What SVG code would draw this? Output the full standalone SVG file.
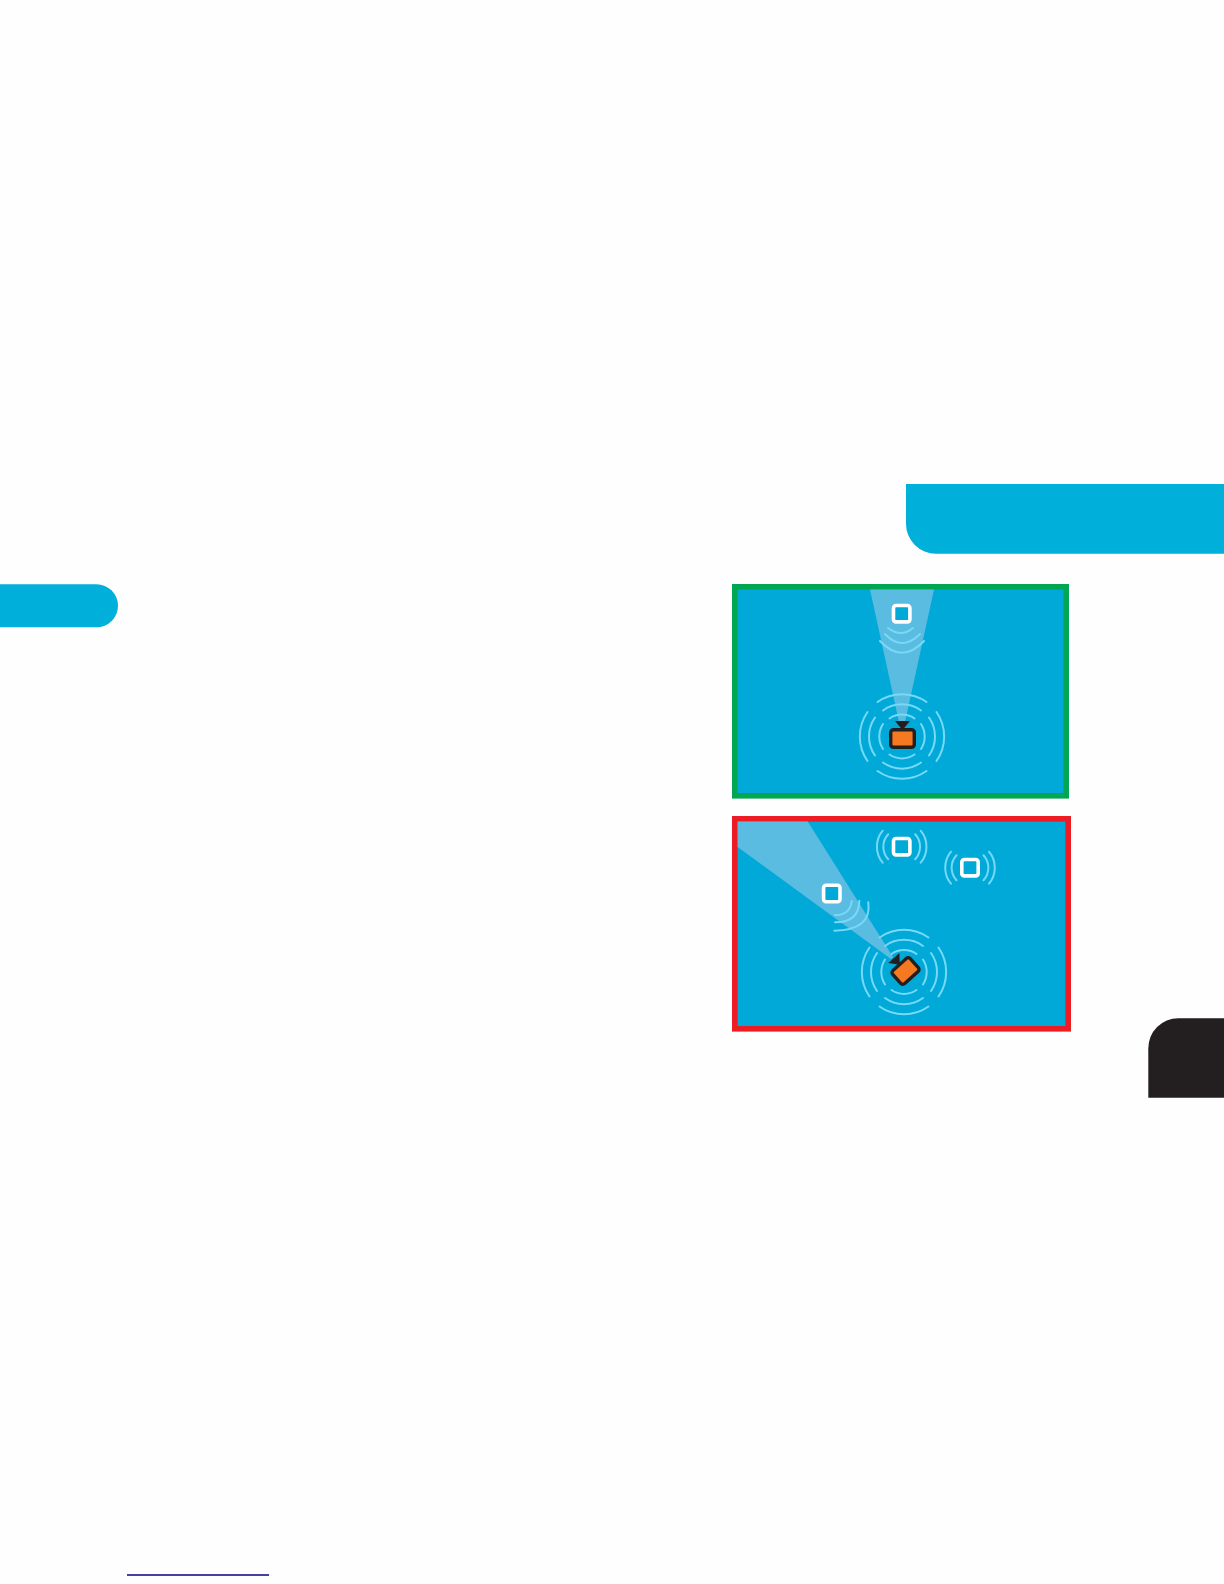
<svg xmlns="http://www.w3.org/2000/svg" width="1224" height="1584" viewBox="0 0 1224 1584">
<style>
.band{fill:#00b0db}
.panel{fill:#00a9d8;stroke-width:5.6}
.beam{fill:#5bbce2}
.ring{fill:none;stroke:#78d9f7;stroke-width:2;stroke-linecap:round}
.tag{fill:#00a9d8;stroke:#fff;stroke-width:3.6}
.body{fill:#f47920;stroke:#231f20;stroke-width:3.4}
.tip{fill:#231f20}
</style>
<defs>
<g id="rings4">
<path class="ring" d="M-24.5,-34.5A42.5,42.5 0 0 1 24.5,-34.5M-19,-26A32.5,32.5 0 0 1 19,-26M-12.5,-18A22,22 0 0 1 12.5,-18"/>
<path class="ring" d="M-24.5,34.5A42.5,42.5 0 0 0 24.5,34.5M-19,26A32.5,32.5 0 0 0 19,26M-12.5,18A22,22 0 0 0 12.5,18"/>
<path class="ring" d="M-34.5,-24.5A43,43 0 0 0 -34.5,24.5M-27,-19A33,33 0 0 0 -27,19M-19,-12.5A23,23 0 0 0 -19,12.5"/>
<path class="ring" d="M34.5,-24.5A43,43 0 0 1 34.5,24.5M27,-19A33,33 0 0 1 27,19M19,-12.5A23,23 0 0 1 19,12.5"/>
</g>
<g id="rings2">
<path class="ring" d="M-19,-16A25,25 0 0 0 -19,16M-13.5,-12.5A18.5,18.5 0 0 0 -13.5,12.5"/>
<path class="ring" d="M19,-16A25,25 0 0 1 19,16M13.5,-12.5A18.5,18.5 0 0 1 13.5,12.5"/>
</g>
<rect id="square" class="tag" x="-8.2" y="-8.2" width="16.4" height="16.4" rx="2.5"/>
<g id="device">
<rect class="body" x="-11.8" y="-8.8" width="23.6" height="17.6" rx="2.8"/>
<path class="tip" d="M-7.5,-17.5L7.5,-17.5L0,-8.5Z"/>
</g>
</defs>
<rect width="1224" height="1584" fill="#fefefe"/>
<path id="top-band" class="band" d="M906,484H1224V553.7H936A30,30 0 0 1 906,523.7Z"/>
<path id="left-tab" class="band" d="M0,584.3H96.5A21.5,21.5 0 0 1 96.5,627.3H0Z"/>
<path id="dark-tab" fill="#231f20" d="M1224,1018.3V1097.7H1148.3V1048.3A30,30 0 0 1 1178.3,1018.3Z"/>
<rect id="bottom-rule" x="127" y="1574.2" width="142" height="1.6" fill="#14148a"/>
<g id="good-panel">
<rect class="panel" x="734.8" y="586.8" width="331.4" height="209" stroke="#00a651"/>
<path class="beam" d="M870,589.6H934L905,722H899Z"/>
<path class="ring" d="M888,628Q901,638 913,628M885,634Q902,652 920,634M880,641Q902,664.4 924,641"/>
<use href="#square" x="901.7" y="613.7"/>
<use href="#rings4" x="902" y="736.5"/>
<use href="#device" x="902.5" y="738.5"/>
</g>
<g id="bad-panel">
<rect class="panel" x="734.8" y="818.8" width="333.4" height="210" stroke="#ed1c24"/>
<path class="beam" d="M737.6,821.6H807.7L893,957L891,959L737.6,847Z"/>
<path class="ring" d="M835,915Q850,915.4 851.7,901M835,922.3Q859,922.5 859.3,900.7M834.3,930.7Q872,930 868.3,902.3"/>
<use href="#square" x="831.8" y="893.5"/>
<use href="#square" x="901.7" y="846.7"/>
<use href="#rings2" x="901.7" y="846.7"/>
<use href="#square" x="970" y="867.7"/>
<use href="#rings2" x="970" y="867.7"/>
<use href="#rings4" x="904" y="972"/>
<use href="#device" transform="translate(905.5 971) rotate(-42)"/>
</g>
</svg>
